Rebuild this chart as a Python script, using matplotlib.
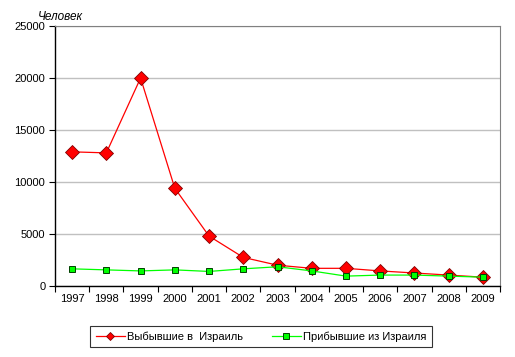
import matplotlib
matplotlib.use("Agg")
import matplotlib.pyplot as plt
from matplotlib.ticker import FixedLocator, NullFormatter

plt.rcParams['font.family'] = ['Liberation Sans', 'DejaVu Sans']

years = ["1997", "1998", "1999", "2000", "2001", "2002", "2003",
         "2004", "2005", "2006", "2007", "2008", "2009"]
emigrated = [12900, 12800, 20000, 9400, 4800, 2750, 2000,
             1700, 1700, 1450, 1250, 1050, 850]
immigrated = [1650, 1550, 1450, 1550, 1400, 1650, 1850,
              1450, 950, 1050, 1050, 950, 850]
yticks = [0, 5000, 10000, 15000, 20000, 25000]

fig = plt.figure(figsize=(5.15, 3.57), dpi=100)
ax = fig.add_axes([55/515, 1-286/357, 445/515, 260/357])

x = list(range(len(years)))
ax.plot(x, emigrated, color='#ff0000', lw=0.9, marker='D', ms=7,
        mfc='#ff0000', mec='#800000', mew=0.6, label='Выбывшие в  Израиль', zorder=3)
ax.plot(x, immigrated, color='#00ff00', lw=0.9, marker='s', ms=5,
        mfc='#00ff00', mec='#004000', mew=0.7, label='Прибывшие из Израиля', zorder=4)

ax.set_xlim(-0.5, len(years)-0.5)
ax.set_ylim(0, 25000)
ax.set_yticks(yticks)
ax.set_yticklabels([str(v) for v in yticks])
ax.yaxis.grid(True, color='#c0c0c0', lw=1)
ax.set_axisbelow(True)

ax.set_xticks(x)
ax.set_xticklabels(years)
ax.tick_params(axis='x', which='major', length=0, pad=6, labelsize=8)
ax.xaxis.set_minor_locator(FixedLocator([i-0.5 for i in range(len(years)+1)]))
ax.xaxis.set_minor_formatter(NullFormatter())
ax.tick_params(axis='x', which='minor', length=4, width=0.8, direction='out', color='black')
ax.tick_params(axis='y', length=4, width=0.8, direction='out', labelsize=8, pad=3)

for s in ['top', 'right']:
    ax.spines[s].set_color('#808080')
    ax.spines[s].set_linewidth(0.8)
for s in ['left', 'bottom']:
    ax.spines[s].set_color('black')
    ax.spines[s].set_linewidth(1.0)

fig.text(38/515, 1-17/357, 'Человек', fontsize=8.5, style='italic', va='center', ha='left')

leg = fig.legend(loc='center', bbox_to_anchor=(261/515, 1-336.5/357), ncol=2,
                 frameon=True, fancybox=False, edgecolor='black', fontsize=8,
                 handlelength=2.6, columnspacing=2.6, borderpad=0.5, handletextpad=0.2)
leg.get_frame().set_linewidth(0.8)
hs = leg.legend_handles
hs[0].set_markersize(4.5)
hs[1].set_markersize(4.5)

fig.savefig('out.png', dpi=100, facecolor='white')
